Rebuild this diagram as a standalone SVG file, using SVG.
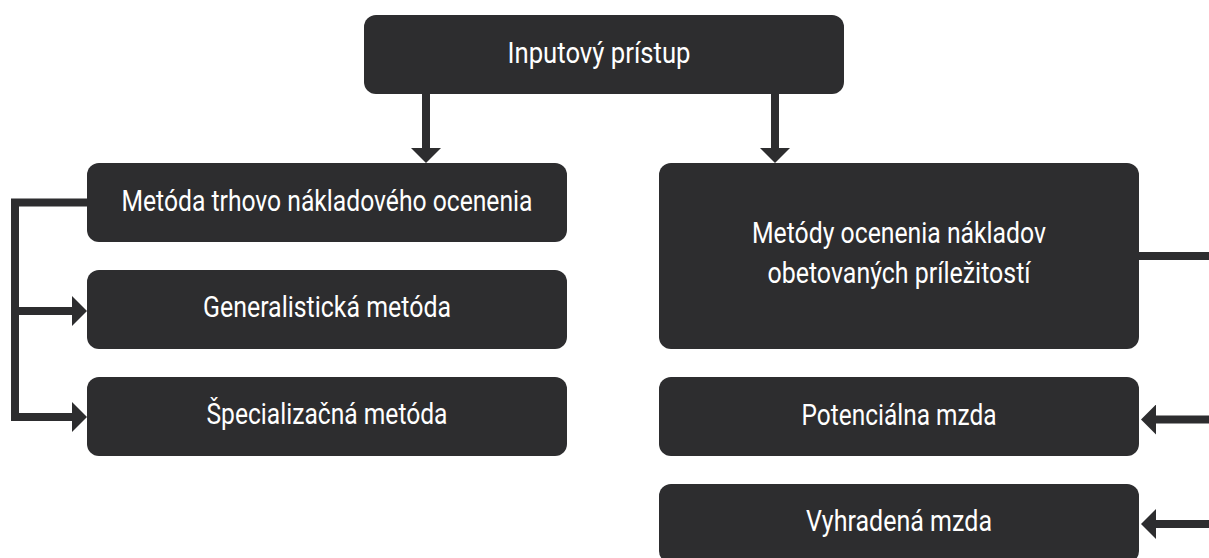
<svg xmlns="http://www.w3.org/2000/svg" width="1209" height="558" viewBox="0 0 1209 558">
  <style>
    .box { fill: #2d2d2f; }
    .lbl { fill: #ffffff; font-family: Roboto, "Liberation Sans", sans-serif; font-size: 30px; text-anchor: middle; }
    .conn { fill: none; stroke: #2d2d2f; stroke-width: 8; stroke-linejoin: miter; }
  </style>
  <defs>
    <marker id="arr" markerUnits="userSpaceOnUse" viewBox="0 0 15 30" markerWidth="15" markerHeight="30" refX="0" refY="15" orient="auto">
      <path d="M0,0 L15,15 L0,30 Z" fill="#2d2d2f"/>
    </marker>
  </defs>
  <rect width="1209" height="558" fill="#ffffff"/>

  <g id="connectors">
    <path class="conn" d="M426,94 V148" stroke-width="9" marker-end="url(#arr)"/>
    <path class="conn" d="M775,94 V148" stroke-width="9" marker-end="url(#arr)"/>
    <path class="conn" d="M87,202.5 H15 V417 H72" marker-end="url(#arr)"/>
    <path class="conn" d="M15,311 H72" marker-end="url(#arr)"/>
    <path class="conn" d="M1139,256 H1213 V524 H1156" marker-end="url(#arr)"/>
    <path class="conn" d="M1213,419.5 H1156" marker-end="url(#arr)"/>
  </g>

  <g id="n-input">
    <rect class="box" x="364" y="15" width="480" height="79" rx="12"/>
    <text class="lbl" x="599" y="63" textLength="183" lengthAdjust="spacingAndGlyphs">Inputový prístup</text>
  </g>
  <g id="n-trhovo">
    <rect class="box" x="87" y="163" width="480" height="79" rx="12"/>
    <text class="lbl" x="327" y="211" textLength="411" lengthAdjust="spacingAndGlyphs">Metóda trhovo nákladového ocenenia</text>
  </g>
  <g id="n-general">
    <rect class="box" x="87" y="270" width="480" height="79" rx="12"/>
    <text class="lbl" x="327" y="317" textLength="248" lengthAdjust="spacingAndGlyphs">Generalistická metóda</text>
  </g>
  <g id="n-special">
    <rect class="box" x="87" y="377" width="480" height="79" rx="12"/>
    <text class="lbl" x="327" y="424" textLength="241" lengthAdjust="spacingAndGlyphs">Špecializačná metóda</text>
  </g>
  <g id="n-obetovane">
    <rect class="box" x="659" y="163" width="480" height="186" rx="12"/>
    <text class="lbl" x="899" y="243" textLength="294" lengthAdjust="spacingAndGlyphs">Metódy ocenenia nákladov</text>
    <text class="lbl" x="899" y="283" textLength="263" lengthAdjust="spacingAndGlyphs">obetovaných príležitostí</text>
  </g>
  <g id="n-potencialna">
    <rect class="box" x="659" y="377" width="480" height="79" rx="12"/>
    <text class="lbl" x="899" y="425" textLength="195" lengthAdjust="spacingAndGlyphs">Potenciálna mzda</text>
  </g>
  <g id="n-vyhradena">
    <rect class="box" x="659" y="484" width="480" height="79" rx="12"/>
    <text class="lbl" x="899" y="531" textLength="186" lengthAdjust="spacingAndGlyphs">Vyhradená mzda</text>
  </g>
</svg>
